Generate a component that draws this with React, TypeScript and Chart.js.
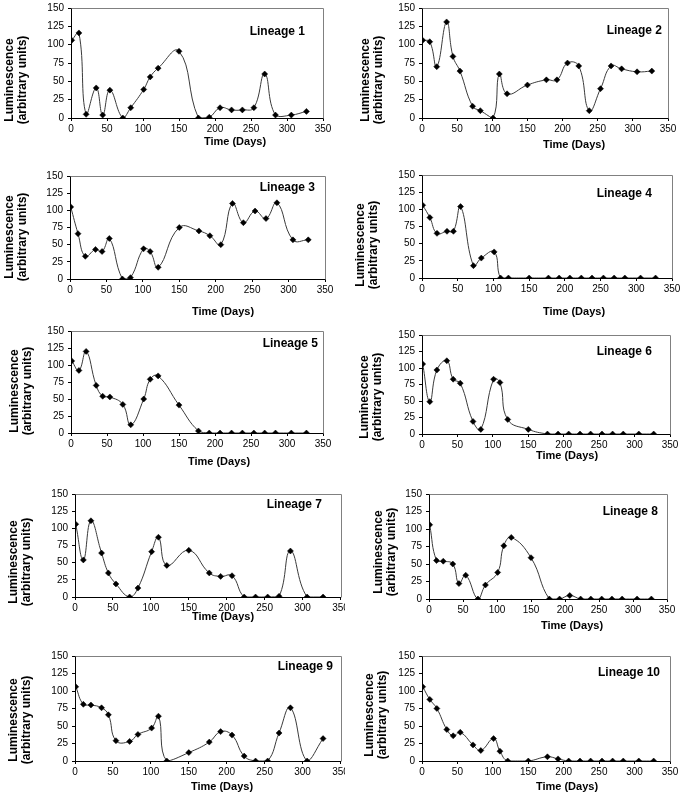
import React, { useEffect, useRef } from "react";
import { Chart, registerables } from "chart.js";

Chart.register(...registerables);

// ---------- data ----------
const days = [1, 11, 21, 35, 44, 54, 72, 83, 101, 110, 121, 150, 177, 192, 207, 223, 238, 254, 269, 284, 306, 327];
const xTickValues = [0, 50, 100, 150, 200, 250, 300, 350];
const yTickValues = [0, 25, 50, 75, 100, 125, 150];

const lineage1 = [106, 116, 5, 41, 4, 38, 0, 14, 39, 56, 68, 91, 0, 1, 14, 11, 11, 14, 60, 4, 4, 9];
const lineage2 = [106, 104, 70, 131, 84, 64, 16, 10, 0, 60, 33, 45, 52, 52, 75, 71, 10, 40, 71, 67, 63, 64];
const lineage3 = [105, 66, 33, 43, 40, 59, 0, 2, 44, 40, 17, 75, 70, 63, 50, 110, 82, 99, 88, 111, 57, 57];
const lineage4 = [106, 88, 65, 68, 68, 104, 18, 29, 38, 0, 0, 0, 0, 0, 0, 0, 0, 0, 0, 0, 0, 0];
const lineage5 = [106, 92, 120, 70, 54, 53, 42, 12, 50, 79, 84, 41, 3, 0, 0, 0, 0, 0, 0, 0, 0, 0];
const lineage6 = [106, 49, 97, 111, 83, 77, 19, 7, 83, 78, 22, 7, 0, 0, 0, 0, 0, 0, 0, 0, 0, 0];
const lineage7 = [106, 54, 111, 64, 35, 19, 0, 13, 66, 87, 46, 68, 35, 30, 31, 0, 0, 0, 1, 67, 0, 0];
const lineage8 = [106, 55, 54, 50, 22, 34, 0, 20, 38, 76, 88, 59, 0, 0, 5, 0, 0, 0, 0, 0, 0, 0];
const lineage9 = [106, 81, 80, 76, 66, 29, 28, 38, 47, 64, 0, 12, 27, 42, 37, 7, 0, 0, 40, 76, 0, 32];
const lineage10 = [106, 88, 75, 45, 36, 41, 23, 15, 32, 14, 0, 0, 6, 3, 0, 0, 0, 0, 0, 0, 0, 0];

const seriesList = [lineage1, lineage2, lineage3, lineage4, lineage5, lineage6, lineage7, lineage8, lineage9, lineage10];
const lineageNames = ["Lineage 1", "Lineage 2", "Lineage 3", "Lineage 4", "Lineage 5", "Lineage 6", "Lineage 7", "Lineage 8", "Lineage 9", "Lineage 10"];
const xTitle = "Time (Days)";
const yTitleLines = ["Luminescence", "(arbitrary units)"];

// ---------- layout (page coordinates) ----------
type Geo = {
  cx: number; cy: number; cw: number; ch: number;
  L: number; R: number; T: number; B: number;
  xt: [number, number]; yt: [number, number]; lab: [number, number];
};
const geos: Geo[] = [
  { cx: 0, cy: 0, cw: 345, ch: 160, L: 71, R: 323, T: 8, B: 118, xt: [235, 142], yt: [16.5, 80], lab: [305, 32] },
  { cx: 345, cy: 0, cw: 344, ch: 160, L: 422, R: 668, T: 8, B: 118, xt: [574, 145], yt: [372, 80], lab: [662, 31] },
  { cx: 0, cy: 155, cw: 345, ch: 165, L: 70, R: 325, T: 176, B: 279, xt: [223, 312], yt: [16, 237], lab: [315, 188] },
  { cx: 345, cy: 155, cw: 344, ch: 165, L: 422, R: 672, T: 175, B: 278, xt: [574, 312], yt: [367.5, 245], lab: [652, 194] },
  { cx: 0, cy: 315, cw: 345, ch: 160, L: 71, R: 323, T: 331, B: 433, xt: [219, 462], yt: [21.5, 391], lab: [318, 344] },
  { cx: 345, cy: 315, cw: 344, ch: 160, L: 422, R: 670, T: 335, B: 434, xt: [567, 456], yt: [371.5, 397], lab: [652, 352] },
  { cx: 0, cy: 478, cw: 345, ch: 162, L: 75, R: 341, T: 494, B: 597, xt: [223, 617], yt: [20.5, 562], lab: [322, 505] },
  { cx: 345, cy: 478, cw: 344, ch: 162, L: 429, R: 667, T: 494, B: 599, xt: [572, 626], yt: [385, 552], lab: [658, 512] },
  { cx: 0, cy: 640, cw: 345, ch: 158, L: 75, R: 341, T: 656, B: 761, xt: [222, 787], yt: [20.5, 720], lab: [333, 667] },
  { cx: 345, cy: 640, cw: 344, ch: 158, L: 422, R: 670, T: 656, B: 761, xt: [567, 787], yt: [376.5, 715], lab: [660, 673] },
];

const FONT = "'Liberation Sans', Arial, sans-serif";

function Panel({ idx }: { idx: number }) {
  const ref = useRef<HTMLCanvasElement | null>(null);
  const g = geos[idx];
  useEffect(() => {
    const canvas = ref.current;
    if (!canvas) return;
    const decor = {
      id: "decor" + idx,
      afterDraw(chart: any) {
        const ctx = chart.ctx;
        const a = chart.chartArea;
        ctx.save();
        ctx.strokeStyle = "#808080";
        ctx.lineWidth = 1;
        ctx.beginPath();
        ctx.moveTo(Math.round(a.left) + 0.5, Math.round(a.top) + 0.5);
        ctx.lineTo(Math.round(a.right) + 0.5, Math.round(a.top) + 0.5);
        ctx.lineTo(Math.round(a.right) + 0.5, Math.round(a.bottom) + 0.5);
        ctx.stroke();
        ctx.fillStyle = "#000";
        ctx.font = `bold 12px ${FONT}`;
        ctx.textAlign = "right";
        ctx.textBaseline = "middle";
        ctx.fillText(lineageNames[idx], g.lab[0] - g.cx, g.lab[1] - g.cy);
        ctx.font = `bold 11px ${FONT}`;
        ctx.textAlign = "center";
        ctx.fillText(xTitle, g.xt[0] - g.cx, g.xt[1] - g.cy);
        ctx.font = `bold 12px ${FONT}`;
        ctx.translate(g.yt[0] - g.cx, g.yt[1] - g.cy);
        ctx.rotate(-Math.PI / 2);
        ctx.fillText(yTitleLines[0], 0, -6.5);
        ctx.fillText(yTitleLines[1], 0, 6.5);
        ctx.restore();
      },
    };
    const chart = new Chart(canvas, {
      type: "line",
      data: {
        datasets: [
          {
            data: days.map((d, i) => ({ x: d, y: seriesList[idx][i] })),
            borderColor: "#3a3a3a",
            borderWidth: 1,
            tension: 0.45,
            pointStyle: "rectRot",
            pointRadius: 3,
            pointBackgroundColor: "#000",
            pointBorderColor: "#000",
            pointBorderWidth: 0.5,
            fill: false,
          },
        ],
      },
      options: {
        responsive: false,
        animation: false,
        events: [],
        layout: {
          padding: { left: 0, top: g.T - g.cy, right: g.cx + g.cw - g.R, bottom: 0 },
        },
        plugins: { legend: { display: false }, tooltip: { enabled: false }, title: { display: false } },
        scales: {
          x: {
            type: "linear",
            min: 0,
            max: 350,
            afterBuildTicks: (s: any) => {
              s.ticks = xTickValues.map((v) => ({ value: v }));
            },
            afterFit: (s: any) => {
              s.height = g.cy + g.ch - g.B;
              s.paddingLeft = 0;
              s.paddingRight = 0;
            },
            ticks: { autoSkip: false, maxRotation: 0, padding: 2, color: "#000", font: { family: FONT, size: 10 } },
            grid: { drawOnChartArea: false, drawTicks: true, tickLength: 3, color: "#000" },
            border: { color: "#000", width: 1 },
          },
          y: {
            type: "linear",
            min: 0,
            max: 150,
            afterBuildTicks: (s: any) => {
              s.ticks = yTickValues.map((v) => ({ value: v }));
            },
            afterFit: (s: any) => {
              s.width = g.L - g.cx;
              s.paddingTop = 0;
              s.paddingBottom = 0;
            },
            ticks: { padding: 4, color: "#000", font: { family: FONT, size: 10 } },
            grid: { drawOnChartArea: false, drawTicks: true, tickLength: 3, color: "#000" },
            border: { color: "#000", width: 1 },
          },
        },
      },
      plugins: [decor],
    } as any);
    return () => chart.destroy();
  }, [idx]);
  return (
    <canvas
      ref={ref}
      width={g.cw}
      height={g.ch}
      style={{ position: "absolute", left: g.cx, top: g.cy, width: g.cw, height: g.ch }}
    />
  );
}

export default function App() {
  return (
    <div style={{ position: "absolute", left: 0, top: 0, width: 689, height: 798, background: "#fff", overflow: "hidden" }}>
      {geos.map((_, i) => (
        <Panel key={i} idx={i} />
      ))}
    </div>
  );
}
